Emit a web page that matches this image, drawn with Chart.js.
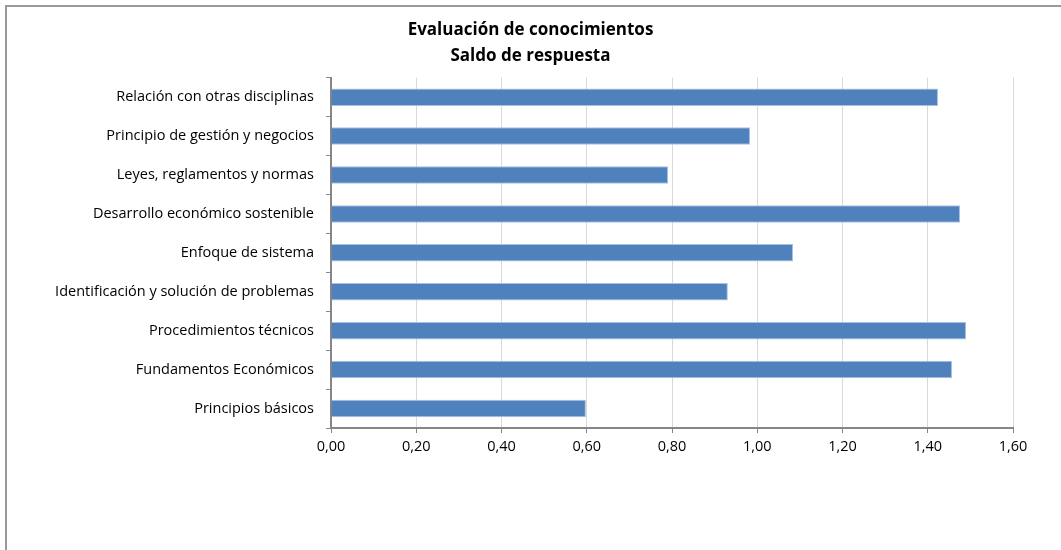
<!DOCTYPE html>
<html>
<head>
<meta charset="utf-8">
<script src="https://cdn.jsdelivr.net/npm/chart.js@4"></script>
<style>
	body { margin:0; background:#fff; }
	#wrap { position:relative; width:1061px; height:550px; overflow:hidden; }
	#frame { position:absolute; left:5px; top:5px; width:1100px; height:600px; border-left:2px solid #9a9a9a; border-top:2px solid #9a9a9a; }
	canvas { position:absolute; left:0; top:0; }
</style>
</head>
<body>
<div id="wrap">
	<div id="frame"></div>
	<canvas id="saldo" width="1061" height="550"></canvas>
</div>
<script>
(function(){
	var categories = [
		'Relación con otras disciplinas',
		'Principio de gestión y negocios',
		'Leyes, reglamentos y normas',
		'Desarrollo económico sostenible',
		'Enfoque de sistema',
		'Identificación y solución de problemas',
		'Procedimientos técnicos',
		'Fundamentos Económicos',
		'Principios básicos'
	];
	var saldo = [1.424, 0.983, 0.791, 1.476, 1.084, 0.931, 1.490, 1.457, 0.598];
	var title_lines = ['Evaluación de conocimientos', 'Saldo de respuesta'];

	var font_family = '"Open Sans", sans-serif';
	var pad_left = 48;

	var ctx = document.getElementById('saldo').getContext('2d');
	var data = {
		labels: categories,
		datasets: [
			{
				data: saldo,
				backgroundColor: '#4f81bd',
				borderColor: '#a9c1e0',
				borderWidth: 1,
				barPercentage: 0.45,
				categoryPercentage: 1.0
			}
		]
	};
	var options = {
		indexAxis: 'y',
		responsive: false,
		animation: false,
		layout: { padding: { left: pad_left, right: 48, top: 0, bottom: 0 } },
		plugins: {
			legend: { display: false },
			tooltip: { enabled: false },
			title: {
				display: true,
				text: title_lines,
				color: '#000',
				font: { family: font_family, size: 17, weight: 'bold', lineHeight: 1.55 },
				padding: { top: 17, bottom: 8 }
			}
		},
		scales: {
			x: {
				min: 0,
				max: 1.6,
				ticks: {
					stepSize: 0.2,
					color: '#000',
					padding: 5,
					font: { family: font_family, size: 14.5 },
					callback: function(v){ return v.toFixed(2).replace('.', ','); }
				},
				grid: { color: '#d9d9d9', tickColor: '#868686', tickLength: 5, lineWidth: 1 },
				border: { color: '#868686', width: 2 },
				afterFit: function(scale){ scale.height = 122; }
			},
			y: {
				ticks: {
					color: '#000',
					padding: 12,
					font: { family: font_family, size: 14.5 }
				},
				grid: { drawOnChartArea: false, tickColor: '#868686', tickLength: 5, offset: true },
				border: { color: '#868686', width: 2 },
				afterFit: function(scale){ scale.width = 331 - pad_left; }
			}
		}
	};
	new Chart(ctx, { type: 'bar', data: data, options: options });
})();
</script>
</body>
</html>
